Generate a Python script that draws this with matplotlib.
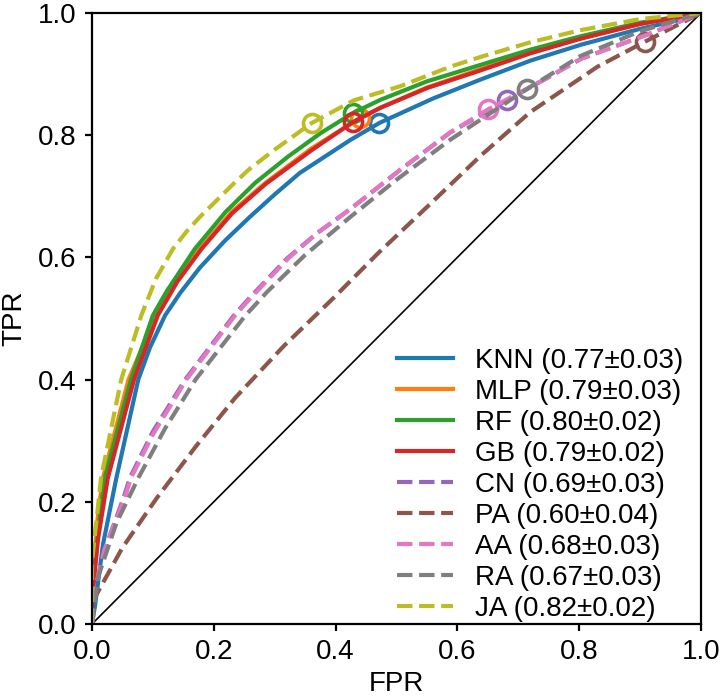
import matplotlib
matplotlib.use("Agg")
import matplotlib.pyplot as plt

plt.rcParams["font.family"] = ["Liberation Sans", "DejaVu Sans"]
plt.rcParams["font.size"] = 10

# ROC curves (FPR, TPR)
knn_fpr = [0.0, 0.005, 0.018, 0.04, 0.076, 0.095, 0.12, 0.145, 0.177, 0.218, 0.259, 0.30, 0.341, 0.424, 0.472, 0.56, 0.638, 0.72, 0.803, 0.9, 0.967, 1.0]
knn_tpr = [0.0, 0.03, 0.13, 0.239, 0.40, 0.452, 0.505, 0.542, 0.583, 0.627, 0.666, 0.703, 0.738, 0.792, 0.820, 0.86, 0.891, 0.922, 0.948, 0.974, 0.989, 1.0]

mlp_fpr = [0.0, 0.0, 0.01, 0.018, 0.06, 0.105, 0.14, 0.178, 0.23, 0.285, 0.36, 0.44, 0.474, 0.55, 0.638, 0.72, 0.803, 0.9, 1.0]
mlp_tpr = [0.0, 0.06, 0.18, 0.239, 0.40, 0.505, 0.565, 0.615, 0.675, 0.722, 0.778, 0.828, 0.845, 0.878, 0.908, 0.935, 0.959, 0.982, 1.0]

rf_fpr = [0.0, 0.0, 0.01, 0.021, 0.064, 0.10, 0.123, 0.169, 0.22, 0.268, 0.322, 0.375, 0.428, 0.474, 0.55, 0.638, 0.72, 0.803, 0.9, 1.0]
rf_tpr = [0.0, 0.04, 0.15, 0.239, 0.40, 0.505, 0.545, 0.614, 0.675, 0.722, 0.765, 0.803, 0.836, 0.858, 0.888, 0.915, 0.94, 0.962, 0.984, 1.0]

gb_fpr = [0.0, 0.0, 0.01, 0.026, 0.069, 0.108, 0.14, 0.18, 0.23, 0.285, 0.36, 0.428, 0.474, 0.55, 0.638, 0.72, 0.803, 0.9, 1.0]
gb_tpr = [0.0, 0.04, 0.14, 0.239, 0.40, 0.505, 0.56, 0.614, 0.672, 0.72, 0.775, 0.821, 0.845, 0.877, 0.906, 0.934, 0.958, 0.982, 1.0]

cn_fpr = [0.0, 0.002, 0.02, 0.052, 0.062, 0.10, 0.153, 0.233, 0.258, 0.32, 0.37, 0.424, 0.507, 0.589, 0.681, 0.75, 0.803, 0.913, 1.0]
cn_tpr = [0.0, 0.044, 0.12, 0.207, 0.239, 0.315, 0.40, 0.505, 0.533, 0.598, 0.64, 0.679, 0.744, 0.805, 0.857, 0.895, 0.925, 0.965, 1.0]

pa_fpr = [0.0, 0.0, 0.005, 0.05, 0.107, 0.17, 0.235, 0.315, 0.396, 0.47, 0.556, 0.64, 0.72, 0.83, 0.908, 1.0]
pa_tpr = [0.0, 0.02, 0.044, 0.125, 0.207, 0.29, 0.37, 0.455, 0.533, 0.607, 0.688, 0.768, 0.838, 0.912, 0.953, 1.0]

aa_fpr = [0.0, 0.002, 0.02, 0.054, 0.064, 0.10, 0.155, 0.235, 0.26, 0.322, 0.37, 0.424, 0.507, 0.589, 0.65, 0.75, 0.803, 0.913, 1.0]
aa_tpr = [0.0, 0.044, 0.12, 0.207, 0.239, 0.31, 0.40, 0.505, 0.533, 0.598, 0.64, 0.679, 0.744, 0.805, 0.842, 0.895, 0.925, 0.965, 1.0]

ra_fpr = [0.0, 0.01, 0.04, 0.076, 0.12, 0.17, 0.252, 0.288, 0.35, 0.424, 0.50, 0.589, 0.715, 0.803, 0.9, 1.0]
ra_tpr = [0.0, 0.077, 0.165, 0.239, 0.32, 0.40, 0.505, 0.544, 0.604, 0.666, 0.727, 0.793, 0.876, 0.93, 0.97, 1.0]

ja_fpr = [0.0, 0.0, 0.002, 0.015, 0.048, 0.081, 0.105, 0.133, 0.155, 0.177, 0.235, 0.259, 0.301, 0.361, 0.43, 0.506, 0.588, 0.638, 0.72, 0.803, 0.9, 1.0]
ja_tpr = [0.0, 0.10, 0.12, 0.24, 0.40, 0.505, 0.565, 0.614, 0.642, 0.666, 0.723, 0.745, 0.777, 0.82, 0.857, 0.88, 0.912, 0.928, 0.952, 0.972, 0.99, 1.0]

# operating points (circles)
names = ["KNN", "MLP", "RF", "GB", "CN", "PA", "AA", "RA", "JA"]
auc_mean = [0.77, 0.79, 0.80, 0.79, 0.69, 0.60, 0.68, 0.67, 0.82]
auc_std = [0.03, 0.03, 0.02, 0.02, 0.03, 0.04, 0.03, 0.03, 0.02]
op_fpr = [0.472, 0.44, 0.428, 0.428, 0.681, 0.908, 0.65, 0.715, 0.361]
op_tpr = [0.820, 0.828, 0.836, 0.821, 0.857, 0.953, 0.842, 0.876, 0.820]

curves = [(knn_fpr, knn_tpr), (mlp_fpr, mlp_tpr), (rf_fpr, rf_tpr), (gb_fpr, gb_tpr),
          (cn_fpr, cn_tpr), (pa_fpr, pa_tpr), (aa_fpr, aa_tpr), (ra_fpr, ra_tpr),
          (ja_fpr, ja_tpr)]
styles = ["-", "-", "-", "-", "--", "--", "--", "--", "--"]

fig = plt.figure(figsize=(3.61, 3.48), dpi=200)
ax = fig.add_axes([0.1274, 0.1034, 0.8435, 0.878])

ax.plot([0, 1], [0, 1], color="black", linewidth=0.6)
for i, (name, (fx, ty)) in enumerate(zip(names, curves)):
    color = f"C{i}"
    ax.plot(fx, ty, linestyle=styles[i], color=color, linewidth=1.5,
            label=f"{name} ({auc_mean[i]:.2f}\u00b1{auc_std[i]:.2f})")
    ax.plot(op_fpr[i], op_tpr[i], marker="o", markersize=6.5, fillstyle="none",
            markeredgewidth=1.3, color=color, linestyle="none")

ax.set_xlim(0, 1)
ax.set_ylim(0, 1)
ax.tick_params(length=2.5, pad=3)
ax.set_xlabel("FPR", labelpad=2)
ax.set_ylabel("TPR", labelpad=4)
ax.legend(loc="lower right", bbox_to_anchor=(0.98, -0.005), frameon=False,
          labelspacing=0.18, borderaxespad=0.0, borderpad=0.2, handletextpad=0.8)

fig.savefig("out.png", dpi=200)
